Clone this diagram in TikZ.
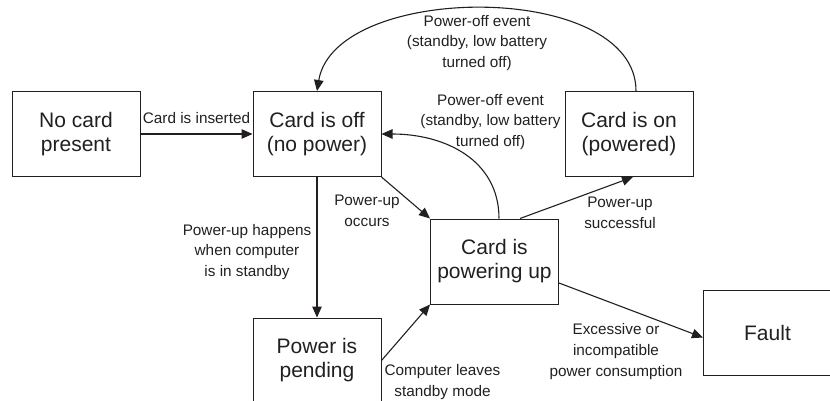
\documentclass[tikz,border=0pt]{standalone}
\usepackage{fontspec}
\setmainfont{Liberation Sans}
\usetikzlibrary{arrows.meta,calc}
\definecolor{ink}{HTML}{231F20}
\tikzset{
  state/.style={draw=ink, line width=1pt, minimum width=128pt, minimum height=85pt,
    inner sep=0pt, align=center, text=ink, font=\fontsize{21}{24}\selectfont},
  lbl/.style={inner sep=0pt, align=center, text=ink, font=\fontsize{15.3}{20.6}\selectfont},
  trans/.style={draw=ink, line width=1.1pt, -{Triangle[length=11pt,width=9.5pt]}}
}
\begin{document}
\begin{tikzpicture}[x=1pt,y=-1pt]
\useasboundingbox (0,0) rectangle (830,401);
\clip (0,0) rectangle (830,401);

% states
\node[state] (nocard)  at (76,134)    {No card\\present};
\node[state] (off)     at (317,134)   {Card is off\\(no power)};
\node[state] (on)      at (629,134)   {Card is on\\(powered)};
\node[state] (pu)      at (494.5,261.5) {Card is\\powering up};
\node[state] (pending) at (317,360.5) {Power is\\pending};
\node[state, minimum width=136pt, anchor=west] (fault) at (703,332.5) {\hspace*{-8pt}Fault};

% transitions
\draw[trans] (nocard.east) -- (off.west);
\draw[trans] ([xshift=7pt]on.north) .. controls (636,-20) and (335,-18) .. (off.north);
\draw[trans] ([xshift=4.5pt]pu.north) .. controls (499,160) and (445,134) .. (off.east);
\draw[trans] ([xshift=25.5pt]pu.north) -- ([xshift=4pt]on.south);
\draw[trans] (off.south east) -- (pu.north west);
\draw[trans] (off.south) -- (pending.north);
\draw[trans] (pending.east) -- (pu.south west);
\draw[trans] ([yshift=-21.5pt]pu.east) -- ([yshift=-5pt]fault.west);

% transition labels
\node[lbl] (l1) at (196.5,118) {Card is inserted};
\node[lbl] (l2) at (477,43)    {Power-off event\\(standby, low battery\\turned off)};
\node[lbl] (l3) at (490.5,122) {Power-off event\\(standby, low battery\\turned off)};
\node[lbl] (l4) at (367,211)   {Power-up\\occurs};
\node[lbl] (l5) at (247,252)   {Power-up happens\\when computer\\is in standby};
\node[lbl] (l6) at (620,213)   {Power-up\\successful};
\node[lbl] (l7) at (616,351.5) {Excessive or\\incompatible\\power consumption};
\node[lbl] (l8) at (442.5,382) {Computer leaves\\standby mode};
\end{tikzpicture}
\end{document}
